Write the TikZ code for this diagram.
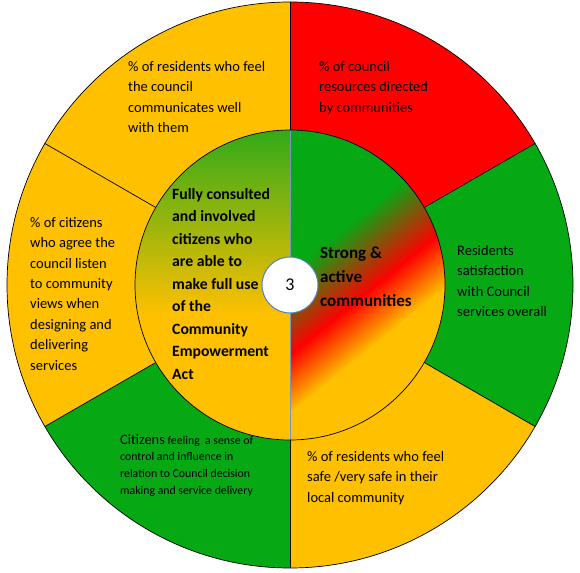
\documentclass[tikz,border=0pt]{standalone}
\usepackage{fontspec}
\setmainfont{Carlito}
\definecolor{cyellow}{RGB}{255,192,0}
\definecolor{cred}{RGB}{255,0,0}
\definecolor{cgreen}{RGB}{6,168,20}
\definecolor{lgreen}{RGB}{50,170,25}
\definecolor{divblue}{RGB}{120,150,190}
\definecolor{ringblue}{RGB}{79,129,189}
\tikzset{
  ringtext/.style={anchor=north west, inner sep=0pt, align=left, font=\fontsize{14.5}{20.4}\selectfont},
  boldtext/.style={anchor=north west, inner sep=0pt, align=left, font=\fontsize{15.7}{22.5}\selectfont\bfseries},
  bigbold/.style={anchor=north west, inner sep=0pt, align=left, font=\fontsize{17}{24}\selectfont\bfseries},
  smalltext/.style={anchor=north west, inner sep=0pt, align=left, font=\fontsize{11.8}{16.8}\selectfont},
  sectorline/.style={black, line width=0.7pt},
}
\begin{document}
\begin{tikzpicture}[x=1pt,y=1pt]
\useasboundingbox (-290,-287) rectangle (290,285);
\coordinate (O) at (0,0);
% outer sectors
\fill[cyellow] (O) -- (90:283) arc (90:150:283) -- cycle;
\fill[cyellow] (O) -- (150:283) arc (150:210:283) -- cycle;
\fill[cgreen] (O) -- (210:283) arc (210:270:283) -- cycle;
\fill[cyellow] (O) -- (270:283) arc (270:330:283) -- cycle;
\fill[cgreen] (O) -- (-30:283) arc (-30:30:283) -- cycle;
\fill[cred] (O) -- (30:283) arc (30:90:283) -- cycle;
\foreach \a in {30,90,150,210,270,330}
  \draw[sectorline] (\a:155) -- (\a:283);
\draw[sectorline] (O) circle (283);
% inner left half
\begin{scope}
  \clip (0,155) arc (90:270:155) -- cycle;
  \fill[cyellow] (-160,-160) rectangle (0,160);
  \shade[top color=lgreen, bottom color=cyellow] (-160,155) rectangle (0,-30);
\end{scope}
% inner right half
\begin{scope}
  \clip (0,-155) arc (-90:90:155) -- cycle;
  \begin{scope}[transform canvas={rotate=39}]
    \fill[cgreen] (-260,9) rectangle (260,260);
    \shade[top color=cgreen, bottom color=cred] (-260,10) rectangle (260,-55);
    \shade[top color=cred, bottom color=cyellow] (-260,-54) rectangle (260,-100);
    \fill[cyellow] (-260,-99) rectangle (260,-260);
  \end{scope}
\end{scope}
\draw[divblue, line width=0.8pt] (0,155) -- (0,-155);
\draw[sectorline] (O) circle (155);
\node[circle, draw=ringblue, fill=white, line width=1pt, minimum size=56pt, inner sep=0pt,
      font=\fontsize{18}{20}\selectfont] (c3) at (O) {3};
% texts
\node[ringtext] (tA) at (-162,224) {\% of residents who feel\\the council\\communicates well\\with them};
\node[ringtext] (tB) at (29,224) {\% of council\\resources directed\\by communities};
\node[ringtext] (tC) at (-260,68) {\% of citizens\\who agree the\\council listen\\to community\\views when\\designing and\\delivering\\services};
\node[ringtext] (tD) at (167,40) {Residents\\satisfaction\\with Council\\services overall};
\node[ringtext] (tE) at (17,-166) {\% of residents who feel\\safe /very safe in their\\local community};
\node[smalltext] (tF) at (-170,-149) {{\fontsize{14.4}{16.8}\selectfont Citizens} feeling\ \ a sense of\\control and influence in\\relation to Council decision\\making and service delivery};
\node[boldtext] (tG) at (-118,97) {Fully consulted\\and involved\\citizens who\\are able to\\make full use\\of the\\Community\\Empowerment\\Act};
\node[bigbold] (tH) at (30,38) {Strong \&\\active\\communities};
\end{tikzpicture}
\end{document}
